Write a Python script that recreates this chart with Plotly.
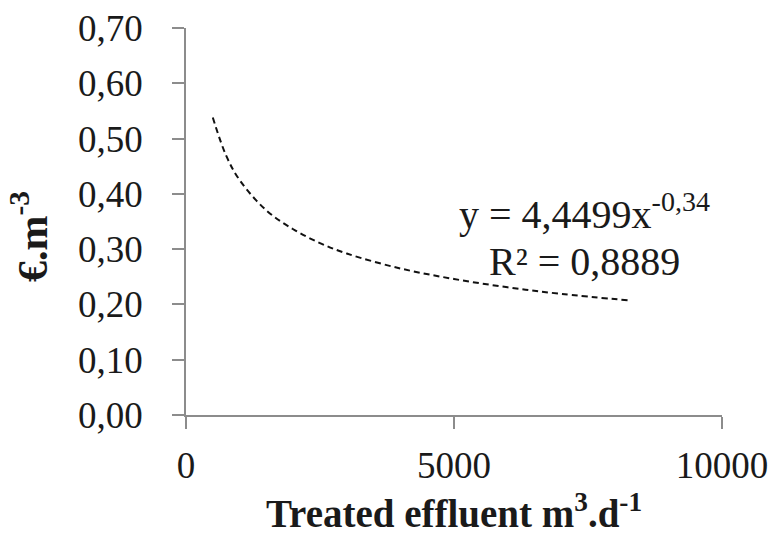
import plotly.graph_objects as go

# Power trendline of unit cost against treated flow
effluent = [500, 750, 1000, 1500, 2000, 2500, 3000, 4000, 5000, 6000, 7000, 8300]
cost = [0.538, 0.469, 0.425, 0.370, 0.336, 0.311, 0.292, 0.265, 0.246, 0.231, 0.219, 0.207]

x_ticks = [0, 5000, 10000]
x_tick_labels = ["0", "5000", "10000"]
y_ticks = [0.0, 0.1, 0.2, 0.3, 0.4, 0.5, 0.6, 0.7]
y_tick_labels = ["0,00", "0,10", "0,20", "0,30", "0,40", "0,50", "0,60", "0,70"]

equation_text = "y = 4,4499x<sup>-0,34</sup>"
r2_text = "R² = 0,8889"
y_title = "<b>€.m<sup>-3</sup></b>"
x_title = "<b>Treated effluent m<sup>3</sup>.d<sup>-1</sup></b>"

FONT = "Liberation Serif, Times New Roman, serif"
AXIS_GREY = "#8c8c8c"
TEXT = "#1a1a1a"

fig = go.Figure()
fig.add_trace(go.Scatter(
    x=effluent, y=cost, mode="lines", line_shape="spline",
    line=dict(color="#111111", width=2, dash="6px,4px"),
    showlegend=False, hoverinfo="skip",
))

# Trendline equation and fit quality
fig.add_annotation(x=7440, y=0.368, xref="x", yref="y", text=equation_text,
                   showarrow=False, font=dict(family=FONT, size=40, color=TEXT),
                   xanchor="center", yanchor="middle")
fig.add_annotation(x=7430, y=0.277, xref="x", yref="y", text=r2_text,
                   showarrow=False, font=dict(family=FONT, size=40, color=TEXT),
                   xanchor="center", yanchor="middle")

# Vertical axis title, set slightly below the axis midpoint
fig.add_annotation(x=-0.291, y=0.46, xref="paper", yref="paper", text=y_title,
                   textangle=-90, showarrow=False,
                   font=dict(family=FONT, size=42, color=TEXT),
                   xanchor="center", yanchor="middle")

fig.update_layout(
    width=777, height=538,
    margin=dict(l=186, r=55, t=28, b=123),
    paper_bgcolor="white", plot_bgcolor="white",
    font=dict(family=FONT, color=TEXT),
)

fig.update_xaxes(
    range=[0, 10000], tickvals=x_ticks, ticktext=x_tick_labels,
    showline=True, linecolor=AXIS_GREY, linewidth=1.5,
    ticks="outside", ticklen=12, tickwidth=1.5, tickcolor=AXIS_GREY,
    showgrid=False, zeroline=False, automargin=False,
    tickfont=dict(family=FONT, size=37, color=TEXT), ticklabelstandoff=5,
    title=dict(text=x_title, font=dict(family=FONT, size=39, color=TEXT), standoff=15),
)
fig.update_yaxes(
    range=[0, 0.70], tickvals=y_ticks, ticktext=y_tick_labels,
    showline=True, linecolor=AXIS_GREY, linewidth=1.5,
    ticks="outside", ticklen=12, tickwidth=1.5, tickcolor=AXIS_GREY,
    showgrid=False, zeroline=False, automargin=False,
    tickfont=dict(family=FONT, size=37, color=TEXT), ticklabelstandoff=22,
)

fig.write_html("out.html")
